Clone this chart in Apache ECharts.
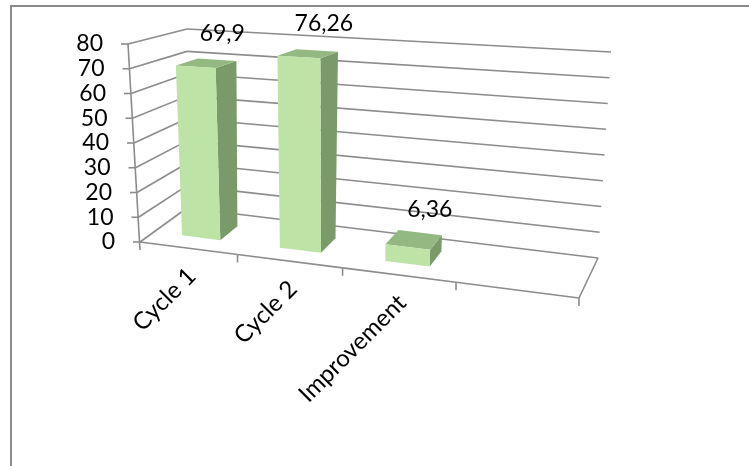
<!DOCTYPE html>
<html>
<head>
<meta charset="utf-8">
<script src="https://cdn.jsdelivr.net/npm/echarts@6/dist/echarts.min.js"></script>
<style>
  html, body { margin: 0; padding: 0; background: #fff; }
  #chart { width: 749px; height: 466px; }
</style>
</head>
<body>
<div id="chart"></div>
<script>
var categories = ['Cycle 1', 'Cycle 2', 'Improvement', ''];
var values = [69.9, 76.26, 6.36, null];
var yTicks = [0, 10, 20, 30, 40, 50, 60, 70, 80];

var FONT = '23px Lato';
var CAT_FONT = '24px Lato';
var LINE = '#8c8c8c';

// corners of the 3d box (front/back, bottom/top, left/right)
var box = {
    fbl: [140, 242], fbr: [579, 298], bbl: [187, 208], bbr: [598, 258],
    ftl: [128, 44],  ftr: [590, 68],  btl: [187, 29],  btr: [611, 52]
};
var persp = -0.1433; // perspective along the category axis

function lerp(a, b, t) {
    return [a[0] + (b[0] - a[0]) * t, a[1] + (b[1] - a[1]) * t];
}
// s: 0..1 along categories, v: 0..1 value, d: 0 front .. 1 back
function proj(s, v, d) {
    var sp = s * (1 + persp) / (1 + persp * s);
    var bottom = lerp(lerp(box.fbl, box.fbr, sp), lerp(box.bbl, box.bbr, sp), d);
    var top = lerp(lerp(box.ftl, box.ftr, sp), lerp(box.btl, box.btr, sp), d);
    return lerp(bottom, top, v);
}
function toUnit(params, api, x, y) {
    var cs = params.coordSys;
    var p = api.coord([x, y]);
    return [(p[0] - cs.x) / cs.width, (cs.y + cs.height - p[1]) / cs.height];
}
function line(a, b) {
    return {
        type: 'line',
        shape: { x1: a[0], y1: a[1], x2: b[0], y2: b[1] },
        style: { stroke: LINE, lineWidth: 1.6 }
    };
}
function text(str, x, y, align, valign, rot, font) {
    return {
        type: 'text', x: x, y: y, rotation: rot || 0,
        style: {
            text: str, x: 0, y: 0, fill: '#000', font: font || FONT,
            align: align, verticalAlign: valign,
            textAlign: align, textVerticalAlign: valign
        }
    };
}
function poly(pts, color) {
    return { type: 'polygon', shape: { points: pts }, style: { fill: color, stroke: null } };
}

var myChart = echarts.init(document.getElementById('chart'));

var option = {
    animation: false,
    grid: { left: 112, top: 44, right: 150, bottom: 224 },
    xAxis: { type: 'category', data: categories, show: false },
    yAxis: { type: 'value', min: 0, max: 80, interval: 10, show: false },
    graphic: [{
        type: 'rect', shape: { x: 11, y: 6, width: 900, height: 700 },
        style: { fill: null, stroke: '#8a8a8a', lineWidth: 2 }
    }],
    series: [{
        // walls: gridlines and value labels
        type: 'custom', clip: false, silent: true,
        data: yTicks.map(function (v) { return [0, v]; }),
        renderItem: function (params, api) {
            var u = toUnit(params, api, 0, api.value(1));
            var v = u[1];
            var f = proj(0, v, 0), b = proj(0, v, 1), r = proj(1, v, 1);
            return {
                type: 'group', children: [
                    line(f, b), line(b, r),
                    line([f[0] - 7, f[1]], f),
                    text(String(api.value(1)), f[0] - 25, f[1], 'right', 'middle')
                ]
            };
        }
    }, {
        // floor front edge, ticks and category labels
        type: 'custom', clip: false, silent: true,
        data: categories.map(function (c, i) { return [i, 0]; }),
        renderItem: function (params, api) {
            var i = api.value(0);
            var cs = params.coordSys;
            var half = api.size([1, 0])[0] / cs.width / 2;
            var c = toUnit(params, api, i, 0)[0];
            var a = proj(c - half, 0, 0), b = proj(c + half, 0, 0);
            var kids = [line(a, b), line(b, [b[0], b[1] + 8])];
            if (i === 0) {
                kids.push(line(proj(0, 1, 0), [a[0], a[1] + 8]));
            }
            if (i === categories.length - 1) {
                kids.push(line(b, proj(1, 0, 1)));
            }
            var m = proj(c, 0, 0);
            kids.push(text(categories[i], m[0] + 4, m[1] + 24, 'right', 'middle', Math.PI / 4, CAT_FONT));
            return { type: 'group', children: kids };
        }
    }, {
        // 3d columns
        type: 'custom', clip: false, silent: true,
        data: values.map(function (v, i) { return [i, v]; }),
        renderItem: function (params, api) {
            var i = api.value(0), val = api.value(1);
            if (val == null || isNaN(val)) return;
            var cs = params.coordSys;
            var bw = api.size([1, 0])[0] / cs.width * 0.4;
            var u = toUnit(params, api, i, val);
            var s0 = u[0] - bw / 2, s1 = u[0] + bw / 2, v = u[1];
            var d0 = 0.3, d1 = 0.7;
            var side = [proj(s1, 0, d0), proj(s1, 0, d1), proj(s1, v, d1), proj(s1, v, d0)];
            var top = [proj(s0, v, d0), proj(s1, v, d0), proj(s1, v, d1), proj(s0, v, d1)];
            var front = [proj(s0, 0, d0), proj(s1, 0, d0), proj(s1, v, d0), proj(s0, v, d0)];
            var lp = proj(u[0], v, 0.5);
            return {
                type: 'group', children: [
                    poly(side, '#7b9a6a'),
                    poly(top, '#93b882'),
                    poly(front, '#bde3a6'),
                    text(String(val).replace('.', ','), lp[0] + 16, lp[1] - 30, 'center', 'middle')
                ]
            };
        }
    }]
};

myChart.setOption(option);
</script>
</body>
</html>
